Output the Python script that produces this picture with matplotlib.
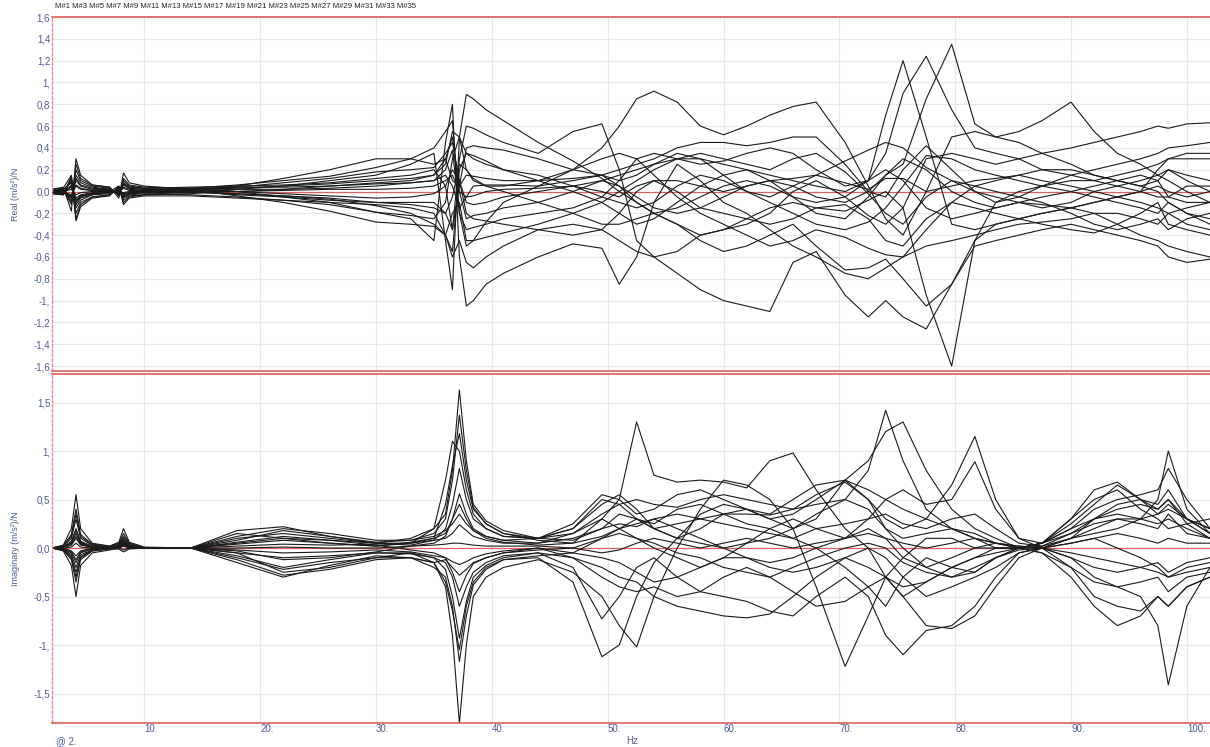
import matplotlib.pyplot as plt

freq_hz = [2, 3, 3.7, 4.1, 4.5, 5.5, 7, 7.8, 8.2, 8.7, 10,
           14, 18, 22, 26, 30, 33, 35,
           36, 36.6, 37.2, 37.8, 38.4, 39.5, 41,
           44, 47, 49.5, 51, 52.5, 54, 56, 58, 60,
           62, 64, 66, 68, 70.5, 72.5, 74, 75.5, 77.5, 79.7, 81.7,
           83.5, 85.5, 87.5, 90, 92, 94, 96, 97.5, 98.4, 100, 102]

meas_names = ["M#1", "M#3", "M#5", "M#7", "M#9", "M#11", "M#13", "M#15", "M#17",
              "M#19", "M#21", "M#23", "M#25", "M#27", "M#29", "M#31", "M#33", "M#35"]

# real part (m/s^2)/N
re_m1 = [0.01, 0.02, -0.12, 0.25, 0.12, 0.06, 0.04, -0.04, 0.12, 0.06, 0.04,
         0.03, 0.0, -0.05, -0.1, -0.19, -0.25, -0.45,
         0.45, 0.8, -0.6, -1.05, -1.0, -0.85, -0.75,
         -0.6, -0.48, -0.52, -0.85, -0.6, -0.1, 0.25, 0.1, -0.1,
         -0.2, -0.35, -0.5, -0.6, -0.75, -0.8, -0.7, -0.6, -0.35, -0.1, 0.05,
         0.1, 0.15, 0.2, 0.2, 0.15, 0.1, 0.05, 0.0, -0.1, -0.2, -0.3]
re_m3 = [-0.01, -0.02, 0.1, -0.2, -0.1, -0.05, -0.03, 0.03, -0.08, -0.04, -0.03,
         -0.02, 0.02, 0.05, 0.1, 0.15, 0.25, 0.35,
         -0.45, -0.9, 0.5, 0.89, 0.85, 0.75, 0.65,
         0.45, 0.28, 0.12, 0.0, -0.1, -0.2, -0.3, -0.45, -0.55,
         -0.5, -0.4, -0.3, -0.5, -0.72, -0.7, -0.62, -0.8, -1.05, -0.85, -0.45,
         -0.3, -0.25, -0.2, -0.15, -0.2, -0.3, -0.4, -0.45, -0.5, -0.55, -0.6]
re_m5 = [0.0, 0.01, -0.08, 0.15, 0.08, 0.04, 0.02, -0.02, 0.08, 0.04, 0.03,
         0.04, 0.05, 0.06, 0.08, 0.12, 0.15, 0.2,
         0.05, -0.35, 0.3, 0.6, 0.58, 0.52, 0.45,
         0.35, 0.55, 0.62, 0.2, -0.45, -0.6, -0.55, -0.4, -0.35,
         -0.3, -0.2, 0.0, 0.1, -0.05, -0.22, -0.3, -0.15, 0.3, 0.35, 0.3,
         0.25, 0.3, 0.35, 0.4, 0.45, 0.5, 0.55, 0.6, 0.58, 0.62, 0.63]
re_m7 = [0.02, 0.03, 0.15, -0.15, -0.08, -0.03, 0.0, 0.05, -0.05, -0.02, 0.01,
         0.03, 0.06, 0.1, 0.14, 0.22, 0.3, 0.4,
         0.55, 0.65, -0.2, -0.5, -0.45, -0.28, -0.1,
         0.05, 0.2, 0.4, 0.6, 0.85, 0.92, 0.82, 0.6, 0.52,
         0.6, 0.7, 0.78, 0.82, 0.45, 0.05, -0.25, -0.4, 0.0, 0.5, 0.55,
         0.5, 0.45, 0.35, 0.25, 0.15, 0.1, 0.05, 0.1, 0.2, 0.1, 0.0]
re_m9 = [-0.02, -0.03, 0.06, -0.12, -0.06, -0.03, -0.02, 0.02, -0.06, -0.03, -0.02,
         -0.03, -0.05, -0.08, -0.1, -0.12, -0.15, -0.2,
         -0.4, -0.55, 0.2, 0.35, 0.33, 0.28, 0.2,
         0.1, 0.0, -0.1, -0.2, -0.3, -0.25, -0.1, 0.05, 0.15,
         0.2, 0.1, -0.05, -0.2, -0.25, -0.05, 0.15, 0.25, 0.85, 1.35, 0.62,
         0.5, 0.55, 0.65, 0.82, 0.55, 0.35, 0.25, 0.15, 0.1, 0.0, -0.1]
re_m11 = [0.01, 0.0, -0.05, 0.1, 0.05, 0.02, 0.02, -0.02, 0.06, 0.03, 0.02,
          0.0, -0.02, -0.04, -0.06, -0.1, -0.12, -0.15,
          -0.2, -0.05, 0.25, 0.2, 0.12, 0.05, 0.0,
          -0.1, -0.2, -0.3, -0.3, -0.25, -0.2, -0.3, -0.4, -0.35,
          -0.25, -0.15, -0.1, -0.15, -0.18, -0.08, 0.0, -0.15, -0.95, -1.6, -0.45,
          -0.1, 0.0, 0.05, 0.1, 0.1, 0.05, 0.0, -0.05, -0.05, -0.1, -0.1]
re_m13 = [0.0, 0.02, 0.08, -0.08, -0.04, -0.02, 0.0, 0.02, -0.03, -0.01, 0.0,
          0.01, 0.02, 0.02, 0.03, 0.05, 0.08, 0.1,
          0.2, 0.38, -0.2, -0.35, -0.33, -0.3, -0.25,
          -0.2, -0.15, -0.05, 0.1, 0.3, 0.35, 0.3, 0.25, 0.28,
          0.35, 0.4, 0.35, 0.2, 0.05, 0.1, 0.7, 1.2, 0.5, -0.3, -0.35,
          -0.3, -0.25, -0.2, -0.15, -0.1, -0.05, 0.0, 0.2, 0.3, 0.35, 0.35]
re_m15 = [-0.01, -0.01, -0.04, 0.06, 0.03, 0.01, 0.01, -0.01, 0.04, 0.02, 0.01,
          0.02, 0.03, 0.05, 0.07, 0.1, 0.12, 0.15,
          0.3, 0.5, 0.0, -0.25, -0.22, -0.2, -0.15,
          -0.1, 0.0, 0.1, 0.15, 0.2, 0.25, 0.3, 0.3, 0.25,
          0.2, 0.15, 0.1, 0.05, 0.0, 0.1, 0.35, 0.9, 1.24, 0.75, 0.4,
          0.35, 0.3, 0.2, 0.15, 0.1, 0.15, 0.2, 0.25, 0.3, 0.3, 0.3]
re_m17 = [0.0, -0.01, 0.05, -0.1, -0.05, -0.02, -0.01, 0.01, -0.04, -0.02, -0.01,
          -0.01, -0.02, -0.04, -0.07, -0.13, -0.2, -0.3,
          -0.4, -0.6, -0.45, -0.65, -0.7, -0.6, -0.5,
          -0.35, -0.3, -0.35, -0.45, -0.55, -0.6, -0.75, -0.9, -1.0,
          -1.05, -1.1, -0.65, -0.55, -0.95, -1.15, -1.0, -1.15, -1.26, -0.85, -0.5,
          -0.45, -0.4, -0.35, -0.3, -0.35, -0.4, -0.45, -0.5, -0.6, -0.65, -0.62]
re_m19 = [0.0, 0.0, 0.04, -0.06, -0.03, -0.01, 0.0, 0.01, -0.02, -0.01, 0.0,
          0.0, -0.03, -0.05, -0.08, -0.1, -0.1, -0.1,
          -0.2, -0.35, 0.05, 0.15, 0.14, 0.12, 0.1,
          0.1, 0.12, 0.15, 0.2, 0.25, 0.3, 0.4, 0.45, 0.45,
          0.42, 0.45, 0.5, 0.5, 0.25, 0.0, -0.05, 0.2, 0.42, 0.2, 0.0,
          -0.1, -0.05, 0.05, 0.15, 0.2, 0.25, 0.3, 0.35, 0.4, 0.42, 0.45]
re_m21 = [0.01, 0.0, -0.03, 0.05, 0.02, 0.01, 0.0, 0.0, 0.03, 0.01, 0.01,
          0.02, 0.04, 0.08, 0.12, 0.18, 0.2, 0.22,
          0.35, 0.45, 0.1, -0.2, -0.25, -0.27, -0.3,
          -0.35, -0.4, -0.35, -0.2, 0.0, 0.1, 0.0, -0.15, -0.2,
          -0.25, -0.3, -0.25, -0.15, -0.12, -0.25, -0.45, -0.5, -0.25, -0.1, -0.15,
          -0.2, -0.25, -0.3, -0.35, -0.38, -0.3, -0.2, -0.1, -0.3, -0.35, -0.4]
re_m23 = [0.0, 0.0, 0.02, -0.03, -0.01, 0.0, 0.0, 0.0, -0.01, 0.0, 0.0,
          0.0, 0.0, 0.01, 0.02, 0.02, 0.03, 0.05,
          0.1, 0.15, 0.0, -0.05, -0.04, 0.0, 0.02,
          0.03, 0.05, 0.0, -0.05, 0.05, 0.1, 0.1, 0.05, 0.0,
          0.05, 0.1, 0.12, 0.15, 0.08, 0.02, 0.12, 0.12, 0.0, 0.05, 0.1,
          0.12, 0.15, 0.1, 0.05, 0.0, -0.05, 0.0, 0.05, 0.0, -0.05, 0.0]
re_m25 = [-0.01, -0.02, 0.12, -0.25, -0.12, -0.05, -0.03, 0.04, -0.1, -0.05, -0.03,
          0.0, 0.05, 0.12, 0.2, 0.3, 0.3, 0.25,
          0.3, 0.1, 0.05, 0.4, 0.42, 0.4, 0.38,
          0.3, 0.2, 0.15, 0.1, 0.15, 0.25, 0.35, 0.3, 0.15,
          0.0, -0.1, -0.2, -0.3, -0.35, -0.28, -0.15, 0.05, 0.33, 0.3, 0.2,
          0.15, 0.1, 0.05, 0.0, -0.05, -0.1, -0.15, -0.2, -0.1, -0.2, -0.25]
re_m27 = [0.02, 0.04, -0.18, 0.3, 0.15, 0.06, 0.04, -0.06, 0.17, 0.08, 0.05,
          0.02, -0.04, -0.1, -0.18, -0.28, -0.3, -0.32,
          -0.4, -0.2, -0.1, -0.45, -0.45, -0.42, -0.38,
          -0.3, -0.2, -0.1, 0.0, 0.1, 0.2, 0.3, 0.35, 0.3,
          0.25, 0.2, 0.3, 0.35, 0.18, -0.02, -0.2, -0.3, -0.05, 0.1, 0.05,
          0.0, -0.05, -0.1, -0.2, -0.3, -0.35, -0.3, -0.25, -0.35, -0.25, -0.2]
re_m29 = [-0.02, -0.03, 0.14, -0.27, -0.14, -0.06, -0.04, 0.05, -0.12, -0.06, -0.04,
          -0.04, -0.06, -0.08, -0.12, -0.19, -0.22, -0.25,
          -0.1, 0.3, 0.5, 0.2, 0.1, 0.05, 0.05,
          0.1, 0.2, 0.3, 0.35, 0.3, 0.15, -0.05, -0.2, -0.3,
          -0.4, -0.5, -0.45, -0.35, -0.42, -0.52, -0.58, -0.6, -0.5, -0.45, -0.4,
          -0.35, -0.3, -0.28, -0.25, -0.2, -0.2, -0.25, -0.3, -0.2, -0.3, -0.35]
re_m31 = [0.01, 0.02, -0.1, 0.2, 0.1, 0.05, 0.03, -0.03, 0.1, 0.05, 0.03,
          0.03, 0.04, 0.04, 0.05, 0.08, 0.1, 0.15,
          0.25, 0.55, 0.5, 0.35, 0.3, 0.25, 0.2,
          0.15, 0.05, -0.05, -0.1, -0.15, -0.1, 0.05, 0.15, 0.1,
          0.0, -0.05, 0.05, 0.15, 0.28, 0.38, 0.45, 0.4, 0.22, 0.1, 0.0,
          -0.05, -0.1, -0.15, -0.1, 0.0, 0.05, 0.1, 0.15, 0.2, 0.15, 0.1]
re_m33 = [0.0, 0.01, -0.06, 0.12, 0.06, 0.03, 0.02, -0.02, 0.07, 0.03, 0.02,
          0.02, 0.0, -0.02, -0.04, -0.06, -0.05, -0.02,
          0.05, 0.2, 0.1, -0.1, -0.12, -0.1, -0.05,
          0.0, 0.05, 0.1, 0.05, -0.05, -0.15, -0.2, -0.15, -0.05,
          0.05, 0.1, 0.05, -0.05, -0.1, 0.0, 0.15, 0.3, 0.2, 0.0, -0.1,
          -0.15, -0.1, -0.05, 0.0, 0.05, 0.1, 0.15, 0.1, -0.05, 0.05, 0.05]
re_m35 = [0.0, -0.01, 0.05, -0.08, -0.04, -0.02, -0.01, 0.01, -0.05, -0.02, -0.01,
          -0.01, 0.0, 0.02, 0.05, 0.07, 0.08, 0.1,
          0.15, 0.05, -0.15, -0.05, 0.05, 0.06, 0.06,
          0.05, 0.1, 0.15, 0.05, -0.1, -0.2, -0.15, -0.05, 0.05,
          0.1, 0.05, -0.05, -0.1, -0.05, 0.1, 0.2, 0.1, -0.15, -0.25, -0.2,
          -0.15, -0.1, -0.12, -0.15, -0.1, -0.05, -0.1, -0.15, -0.2, -0.15, -0.1]

# imaginary part (m/s^2)/N
im_m1 = [0.0, 0.03, 0.2, 0.55, 0.2, 0.05, 0.02, 0.06, 0.2, 0.06, 0.01,
         0.0, 0.05, 0.1, 0.08, 0.05, 0.1, 0.2,
         0.35, 0.8, 1.63, 0.9, 0.45, 0.28, 0.18,
         0.1, 0.08, 0.2, 0.35, 0.3, 0.2, 0.1, 0.05, 0.0,
         0.05, 0.1, 0.2, 0.35, 0.5, 0.8, 1.42, 0.9, 0.4, 0.2, 0.1,
         0.05, 0.0, 0.02, 0.1, 0.15, 0.2, 0.3, 0.5, 1.0, 0.4, 0.15]
im_m3 = [0.0, -0.03, -0.18, -0.5, -0.18, -0.05, -0.02, 0.0, 0.02, 0.0, 0.0,
         0.0, -0.08, -0.2, -0.12, -0.05, -0.05, -0.15,
         -0.4, -0.9, -1.81, -1.0, -0.5, -0.3, -0.2,
         -0.12, -0.25, -0.5, -0.8, -1.02, -0.5, 0.0, 0.4, 0.7,
         0.65, 0.5, 0.2, -0.4, -1.22, -0.7, -0.3, -0.1, 0.1, 0.1, 0.0,
         0.0, 0.0, -0.05, -0.2, -0.35, -0.4, -0.5, -0.8, -1.41, -0.6, -0.2]
im_m5 = [0.0, 0.02, 0.14, 0.4, 0.14, 0.04, 0.02, 0.05, 0.15, 0.05, 0.0,
         0.0, 0.12, 0.2, 0.15, 0.08, 0.08, 0.15,
         0.3, 0.7, 1.37, 0.8, 0.42, 0.25, 0.15,
         0.08, 0.05, 0.3, 0.5, 1.3, 0.75, 0.68, 0.7, 0.68,
         0.62, 0.9, 0.98, 0.6, 0.2, 0.0, -0.3, -0.5, -0.35, -0.2, -0.1,
         -0.05, 0.0, 0.05, 0.2, 0.3, 0.35, 0.3, 0.25, 0.3, 0.2, 0.1]
im_m7 = [0.0, -0.02, -0.12, -0.35, -0.12, -0.03, -0.01, -0.01, -0.04, -0.01, 0.0,
         0.0, -0.15, -0.3, -0.18, -0.08, -0.1, -0.2,
         -0.3, -0.6, -1.17, -0.7, -0.38, -0.22, -0.12,
         -0.1, -0.35, -1.12, -1.0, -0.5, -0.15, 0.1, 0.35, 0.45,
         0.4, 0.3, 0.2, 0.3, 0.7, 0.5, 0.2, 0.0, -0.2, -0.3, -0.2,
         -0.1, 0.0, 0.05, 0.2, 0.4, 0.5, 0.55, 0.6, 0.82, 0.5, 0.2]
im_m9 = [0.0, 0.02, 0.1, 0.3, 0.1, 0.03, 0.01, 0.04, 0.12, 0.04, 0.0,
         0.0, 0.18, 0.22, 0.12, 0.05, 0.05, 0.1,
         0.45, 0.85, 1.18, 0.7, 0.4, 0.25, 0.15,
         0.1, 0.2, 0.45, 0.55, 0.4, 0.2, 0.1, 0.2, 0.35,
         0.4, 0.3, 0.35, 0.5, 0.7, 0.9, 1.2, 1.3, 0.8, 0.4, 0.2,
         0.1, 0.0, 0.0, 0.1, 0.2, 0.3, 0.25, 0.2, 0.35, 0.15, 0.1]
im_m11 = [0.0, -0.01, -0.09, -0.25, -0.09, -0.02, 0.0, 0.01, 0.02, 0.01, 0.0,
          0.0, -0.05, -0.25, -0.2, -0.1, -0.05, -0.1,
          -0.22, -0.5, -0.93, -0.55, -0.3, -0.18, -0.1,
          -0.05, -0.2, -0.73, -0.5, -0.2, -0.1, -0.3, -0.45, -0.5,
          -0.55, -0.65, -0.7, -0.5, -0.3, -0.5, -0.9, -1.1, -0.85, -0.8, -0.6,
          -0.3, -0.05, 0.0, -0.2, -0.5, -0.6, -0.65, -0.5, -0.6, -0.4, -0.3]
im_m13 = [0.0, 0.01, 0.07, 0.2, 0.07, 0.02, 0.01, 0.03, 0.1, 0.03, 0.0,
          0.0, 0.1, 0.15, 0.1, 0.05, 0.03, 0.08,
          0.2, 0.45, 0.82, 0.5, 0.3, 0.2, 0.12,
          0.1, 0.2, 0.5, 0.45, 0.3, 0.2, 0.25, 0.3, 0.35,
          0.35, 0.34, 0.4, 0.55, 0.68, 0.5, 0.3, 0.2, 0.3, 0.65, 1.15,
          0.5, 0.1, 0.05, 0.25, 0.45, 0.65, 0.5, 0.4, 0.5, 0.25, 0.1]
im_m15 = [0.0, 0.01, 0.05, 0.15, 0.05, 0.01, 0.0, 0.02, 0.08, 0.02, 0.0,
          0.0, 0.04, 0.08, 0.05, 0.02, 0.06, 0.1,
          0.15, 0.3, 0.56, 0.35, 0.2, 0.12, 0.08,
          0.1, 0.15, 0.3, 0.2, 0.1, 0.0, -0.1, -0.2, -0.1,
          0.05, 0.2, 0.3, 0.2, 0.1, 0.3, 0.5, 0.6, 0.45, 0.5, 0.89,
          0.4, 0.1, 0.0, 0.1, 0.3, 0.45, 0.5, 0.45, 0.6, 0.3, 0.15]
im_m17 = [0.0, -0.01, -0.04, -0.12, -0.04, -0.01, 0.0, 0.02, 0.05, 0.02, 0.0,
          0.0, -0.1, -0.22, -0.15, -0.1, -0.1, -0.15,
          -0.12, -0.2, -0.28, -0.22, -0.15, -0.1, -0.05,
          0.0, -0.1, -0.3, -0.4, -0.45, -0.4, -0.5, -0.45, -0.3,
          -0.2, -0.3, -0.45, -0.6, -0.55, -0.4, -0.3, -0.5, -0.8, -0.83, -0.7,
          -0.4, -0.1, 0.0, -0.1, -0.3, -0.4, -0.35, -0.3, -0.45, -0.3, -0.25]
im_m19 = [0.0, 0.0, 0.03, 0.1, 0.03, 0.01, 0.0, 0.02, 0.06, 0.02, 0.0,
          0.0, 0.02, 0.04, 0.03, 0.04, 0.05, 0.08,
          0.1, 0.15, 0.24, 0.18, 0.12, 0.08, 0.05,
          0.05, 0.1, 0.2, 0.25, 0.22, 0.3, 0.35, 0.3, 0.25,
          0.2, 0.15, 0.1, 0.2, 0.25, 0.3, 0.35, 0.25, 0.2, 0.3, 0.35,
          0.2, 0.05, 0.02, 0.15, 0.25, 0.3, 0.3, 0.35, 0.45, 0.3, 0.2]
im_m21 = [0.0, 0.0, -0.03, -0.08, -0.03, 0.0, 0.0, 0.01, 0.03, 0.01, 0.0,
          0.0, -0.02, -0.05, -0.04, -0.02, -0.04, -0.08,
          -0.1, -0.14, -0.17, -0.14, -0.1, -0.06, -0.03,
          0.0, -0.05, -0.1, -0.15, -0.25, -0.35, -0.3, -0.2, -0.1,
          -0.1, -0.2, -0.25, -0.2, -0.1, 0.0, -0.1, -0.3, -0.5, -0.4, -0.3,
          -0.2, -0.05, 0.0, -0.05, -0.1, -0.15, -0.2, -0.25, -0.3, -0.2, -0.15]
im_m23 = [0.0, 0.0, 0.01, 0.05, 0.01, 0.0, 0.0, 0.01, 0.02, 0.01, 0.0,
          0.0, 0.0, 0.01, 0.0, 0.0, 0.02, 0.03,
          0.04, 0.05, 0.05, 0.04, 0.03, 0.02, 0.02,
          0.02, 0.0, -0.05, -0.02, 0.05, 0.1, 0.05, 0.0, 0.05,
          0.1, 0.05, 0.0, 0.05, 0.1, 0.15, 0.1, 0.05, 0.0, 0.05, 0.1,
          0.05, 0.02, 0.0, 0.05, 0.1, 0.15, 0.1, 0.05, 0.1, 0.05, 0.05]
im_m25 = [0.0, -0.02, -0.1, -0.3, -0.1, -0.03, -0.01, 0.01, 0.04, 0.01, 0.0,
          0.0, -0.12, -0.28, -0.22, -0.12, -0.1, -0.15,
          -0.35, -0.65, -1.05, -0.6, -0.35, -0.2, -0.12,
          -0.08, -0.05, 0.1, 0.2, 0.3, 0.25, 0.4, 0.45, 0.35,
          0.25, 0.2, 0.1, 0.0, -0.2, -0.4, -0.6, -0.3, -0.1, -0.2, -0.25,
          -0.1, 0.0, 0.05, 0.3, 0.6, 0.68, 0.5, 0.35, 0.4, 0.3, 0.2]
im_m27 = [0.0, 0.02, 0.12, 0.35, 0.12, 0.03, 0.01, 0.03, 0.1, 0.03, 0.0,
          0.0, 0.15, 0.1, 0.05, 0.02, 0.05, 0.2,
          0.7, 1.1, 1.0, 0.6, 0.35, 0.2, 0.12,
          0.1, 0.25, 0.55, 0.5, 0.35, 0.4, 0.55, 0.6, 0.5,
          0.4, 0.35, 0.5, 0.65, 0.7, 0.6, 0.5, 0.4, 0.3, 0.2, 0.1,
          0.0, 0.0, 0.05, 0.3, 0.5, 0.6, 0.4, 0.3, 0.2, 0.25, 0.3]
im_m29 = [0.0, -0.01, -0.05, -0.15, -0.05, -0.01, 0.0, 0.0, -0.02, 0.0, 0.0,
          0.0, -0.05, -0.1, -0.08, -0.05, -0.06, -0.1,
          -0.15, -0.3, -0.6, -0.4, -0.25, -0.15, -0.08,
          -0.05, -0.1, -0.2, -0.3, -0.35, -0.5, -0.6, -0.65, -0.7,
          -0.72, -0.68, -0.5, -0.3, -0.1, -0.2, -0.3, -0.4, -0.35, -0.2, -0.1,
          0.0, 0.0, -0.05, -0.3, -0.6, -0.8, -0.7, -0.5, -0.6, -0.4, -0.3]
im_m31 = [0.0, 0.01, 0.04, 0.12, 0.04, 0.01, 0.0, 0.02, 0.05, 0.02, 0.0,
          0.0, 0.08, 0.18, 0.12, 0.06, 0.08, 0.12,
          0.18, 0.25, 0.35, 0.25, 0.18, 0.12, 0.08,
          0.05, 0.15, 0.35, 0.45, 0.5, 0.45, 0.42, 0.5, 0.55,
          0.5, 0.45, 0.4, 0.45, 0.5, 0.4, 0.2, 0.1, 0.15, 0.2, 0.15,
          0.05, 0.0, 0.05, 0.15, 0.3, 0.4, 0.45, 0.4, 0.5, 0.3, 0.15]
im_m33 = [0.0, 0.01, 0.06, 0.18, 0.06, 0.01, 0.0, 0.02, 0.07, 0.02, 0.0,
          0.0, -0.03, -0.12, -0.1, -0.04, 0.02, 0.05,
          0.12, 0.3, 0.45, 0.3, 0.18, 0.1, 0.06,
          0.03, 0.05, 0.12, 0.2, 0.25, 0.3, 0.2, 0.1, 0.0,
          -0.1, -0.15, -0.1, 0.0, 0.1, 0.2, 0.1, -0.1, -0.2, -0.1, 0.0,
          0.05, 0.02, 0.0, -0.1, -0.2, -0.25, -0.2, -0.15, -0.25, -0.15, -0.1]
im_m35 = [0.0, -0.01, -0.07, -0.2, -0.07, -0.02, 0.0, 0.01, 0.03, 0.01, 0.0,
          0.0, 0.06, 0.12, 0.08, 0.03, -0.02, -0.05,
          -0.1, -0.25, -0.45, -0.28, -0.16, -0.1, -0.05,
          -0.02, 0.0, 0.1, 0.15, 0.1, 0.05, -0.05, -0.1, -0.2,
          -0.25, -0.3, -0.2, -0.1, 0.0, 0.05, 0.0, -0.15, -0.25, -0.3, -0.25,
          -0.1, -0.02, 0.0, 0.05, 0.1, 0.0, -0.1, -0.2, -0.3, -0.25, -0.2]

real_curves = [re_m1, re_m3, re_m5, re_m7, re_m9, re_m11, re_m13, re_m15, re_m17,
               re_m19, re_m21, re_m23, re_m25, re_m27, re_m29, re_m31, re_m33, re_m35]
imag_curves = [im_m1, im_m3, im_m5, im_m7, im_m9, im_m11, im_m13, im_m15, im_m17,
               im_m19, im_m21, im_m23, im_m25, im_m27, im_m29, im_m31, im_m33, im_m35]

x_ticks = [10, 20, 30, 40, 50, 60, 70, 80, 90, 100]
x_tick_labels = ["10.", "20.", "30.", "40.", "50.", "60.", "70.", "80.", "90.", "100."]
real_ticks = [1.6, 1.4, 1.2, 1.0, 0.8, 0.6, 0.4, 0.2, 0.0, -0.2, -0.4, -0.6, -0.8,
              -1.0, -1.2, -1.4, -1.6]
real_tick_labels = ["1,6", "1,4", "1,2", "1,", "0,8", "0,6", "0,4", "0,2", "0,0", "-0,2",
                    "-0,4", "-0,6", "-0,8", "-1,", "-1,2", "-1,4", "-1,6"]
imag_ticks = [1.5, 1.0, 0.5, 0.0, -0.5, -1.0, -1.5]
imag_tick_labels = ["1,5", "1,", "0,5", "0,0", "-0,5", "-1,", "-1,5"]

RED = "#d9544f"
BLUE = "#4b5a9b"
NARROW = ["DejaVu Sans Condensed", "Liberation Sans Narrow", "Liberation Sans"]

fig = plt.figure(figsize=(12.1, 7.47), dpi=100)
ax_re = fig.add_axes([0.0427, 0.5033, 0.9573, 0.4739])
ax_im = fig.add_axes([0.0427, 0.0321, 0.9573, 0.4672])


def style_axis(ax, ticks, labels, ylim):
    ax.set_xlim(2, 102)
    ax.set_ylim(*ylim)
    ax.set_xticks(x_ticks)
    ax.set_yticks(ticks)
    ax.set_yticklabels(labels, color=BLUE, fontsize=7, family=NARROW)
    ax.tick_params(axis="both", length=0, pad=1)
    ax.grid(True, color="#e8e8e8", lw=0.8)
    ax.set_axisbelow(True)
    for s in ["top", "bottom"]:
        ax.spines[s].set_color(RED)
        ax.spines[s].set_linewidth(1.1)
    ax.spines["right"].set_visible(False)
    ax.spines["left"].set_color("#e49090")
    ax.spines["left"].set_linestyle((0, (2, 1.5)))
    ax.spines["left"].set_linewidth(1.0)
    ax.axhline(0, color="#e06060", lw=0.9, zorder=1)


style_axis(ax_re, real_ticks, real_tick_labels, (-1.646, 1.6))
style_axis(ax_im, imag_ticks, imag_tick_labels, (-1.804, 1.794))
ax_re.set_xticklabels([])
ax_im.set_xticklabels(x_tick_labels, color=BLUE, fontsize=7, family=NARROW, ha="left")

for y in real_curves:
    ax_re.plot(freq_hz, y, color="#1a1a1a", lw=0.8, zorder=2)
for y in imag_curves:
    ax_im.plot(freq_hz, y, color="#1a1a1a", lw=0.8, zorder=2)

ax_re.set_ylabel("Real (m/s\u00b2)/N", color=BLUE, fontsize=6.5, family=NARROW, labelpad=10)
ax_im.set_ylabel("Imaginary (m/s\u00b2)/N", color=BLUE, fontsize=6.5, family=NARROW, labelpad=10)

fig.text(55 / 1210, 1 - 6 / 747, " ".join(meas_names), fontsize=5.6, family=NARROW,
         va="center", ha="left", color="#222222")
fig.text(56 / 1210, 1 - 741 / 747, "@ 2.", fontsize=7, family=NARROW, color=BLUE, va="center")
fig.text(626 / 1210, 1 - 741 / 747, "Hz", fontsize=7, family=NARROW, color=BLUE, va="center")

fig.savefig("out.png", dpi=100)
